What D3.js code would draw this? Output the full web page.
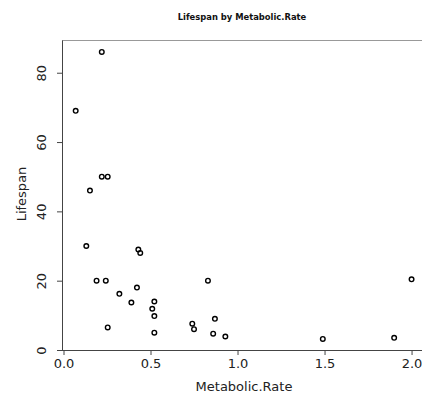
<!DOCTYPE html>
<html>
<head>
<meta charset="utf-8">
<script src="https://cdn.jsdelivr.net/npm/d3@7"></script>
<style>
  body { margin: 0; background: #fff; }
  svg { display: block; }
  text { font-family: "DejaVu Sans", Verdana, sans-serif; }
</style>
</head>
<body>
<div id="chart"></div>
<script>
// values
const metabolicRate = [0.22, 0.07, 0.22, 0.254, 0.152, 0.131, 0.19, 0.243, 0.321, 0.254,
  0.39, 0.422, 0.43, 0.441, 0.522, 0.51, 0.522, 0.522, 0.74, 0.75,
  0.83, 0.87, 0.86, 0.93, 1.49, 1.90, 2.0];
const lifespan = [86, 69, 50, 50, 46, 30, 20, 20, 16.2, 6.5,
  13.7, 18, 29, 28, 14, 11.9, 9.8, 5, 7.6, 6,
  20, 9, 4.7, 3.9, 3.2, 3.5, 20.4];
const xTicks = [0, 0.5, 1, 1.5, 2];
const yTicks = [0, 20, 40, 60, 80];

let width = 422;
let height = 394;
let margin = ({top: 40.5, right: 0, bottom: 44, left: 63.5});

let data = metabolicRate.map((d, i) => ({x: d, y: lifespan[i]}));

let x = d3.scaleLinear()
    .domain([0, 2.06])
    .range([margin.left, width - margin.right]);

let y = d3.scaleLinear()
    .domain([0, 89.3])
    .range([height - margin.bottom, margin.top]);

const svg = d3.select("#chart").append("svg")
    .attr("width", width)
    .attr("height", height);

// top frame line
svg.append("line")
    .attr("x1", margin.left - 1.5).attr("x2", width)
    .attr("y1", margin.top).attr("y2", margin.top)
    .attr("stroke", "#999").attr("stroke-width", 1.2);

let xAxis = g => g
    .attr("transform", `translate(0,${height - margin.bottom})`)
    .call(d3.axisBottom(x).tickValues(xTicks).tickFormat(d3.format(".1f")).tickSizeOuter(0).tickSize(5).tickPadding(4))
    .call(g => g.select(".domain").attr("d", `M${margin.left - 1.5},0.5H${width}`).attr("stroke", "#444"))
    .call(g => g.selectAll(".tick line").attr("stroke", "#444"))
    .call(g => g.selectAll(".tick text")
        .attr("font-size", 13).attr("fill", "#222")
        .attr("font-family", "DejaVu Sans, sans-serif"));

let yAxis = g => g
    .attr("transform", `translate(${margin.left - 1.5},0)`)
    .call(d3.axisLeft(y).tickValues(yTicks).tickSizeOuter(0).tickSize(5))
    .call(g => g.select(".domain").attr("d", `M0.5,${margin.top}V${height - margin.bottom + 1}`).attr("stroke", "#444"))
    .call(g => g.selectAll(".tick line").attr("stroke", "#444"))
    .call(g => g.selectAll(".tick text")
        .attr("font-size", 13).attr("fill", "#222")
        .attr("font-family", "DejaVu Sans, sans-serif")
        .attr("text-anchor", "middle")
        .attr("transform", "rotate(-90)")
        .attr("x", 0).attr("y", -20).attr("dy", "0.32em"));

svg.append("g").attr("class", "x-axis").call(xAxis);
svg.append("g").attr("class", "y-axis").call(yAxis);

svg.append("g")
    .attr("class", "points")
    .attr("fill", "none")
    .attr("stroke", "#000")
    .attr("stroke-width", 1.4)
  .selectAll("circle")
  .data(data)
  .join("circle")
    .attr("cx", d => x(d.x))
    .attr("cy", d => y(d.y))
    .attr("r", 2.3);

svg.append("text")
    .attr("x", 242).attr("y", 19.5)
    .attr("text-anchor", "middle")
    .attr("font-size", 8.4)
    .attr("font-weight", "bold")
    .attr("fill", "#111")
    .text("Lifespan by Metabolic.Rate");

svg.append("text")
    .attr("x", 244).attr("y", 391)
    .attr("text-anchor", "middle")
    .attr("font-size", 13)
    .attr("fill", "#222")
    .text("Metabolic.Rate");

svg.append("text")
    .attr("transform", `translate(26,194) rotate(-90)`)
    .attr("text-anchor", "middle")
    .attr("font-size", 13)
    .attr("fill", "#222")
    .text("Lifespan");
</script>
</body>
</html>
